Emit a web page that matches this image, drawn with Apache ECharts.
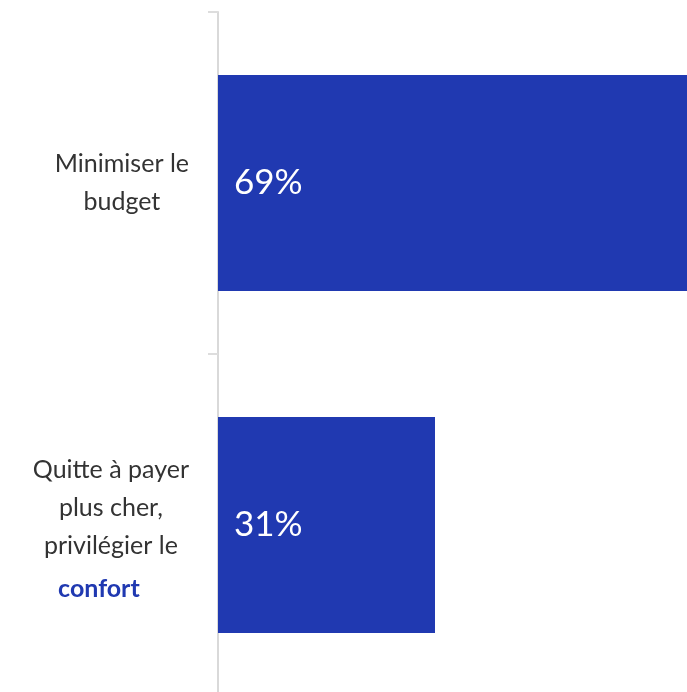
<!DOCTYPE html>
<html><head><meta charset="utf-8">
<script src="https://cdn.jsdelivr.net/npm/echarts@6/dist/echarts.min.js"></script>
<style>html,body{margin:0;padding:0;background:#fff}#c{width:687px;height:692px}</style>
</head><body><div id="c"></div>
<script>
const categories = ['Minimiser le budget', 'Quitte à payer plus cher, privilégier le confort'];
const labelLines = [
  [['a','Minimiser le'],['a','budget']],
  [['a','Quitte à payer'],['a','plus cher,'],['a','privilégier le'],['b','confort']]
];
const values = [69, 31];
const BLUE = '#2039B1';
const chart = echarts.init(document.getElementById('c'));
chart.setOption({
  animation: false,
  grid: {left: 218, top: 12, right: 0, height: 684, containLabel: false, outerBoundsMode: 'none'},
  xAxis: {type: 'value', min: 0, max: 67, show: false},
  yAxis: {
    type: 'category',
    data: [
      {value: categories[0]},
      {value: categories[1], textStyle: {padding: [14, 0, 0, 0]}}
    ],
    inverse: true,
    axisLine: {show: true, lineStyle: {color: '#d9d9d9', width: 2}},
    axisTick: {show: true, length: 10, lineStyle: {color: '#dddddd', width: 2}},
    axisLabel: {
      margin: 29,
      formatter: function (v, i) {
        return labelLines[i].map(l => '{' + l[0] + '|' + l[1] + '}').join('\n');
      },
      rich: {
        a: {fontFamily: 'Lato', fontSize: 25, color: '#333333', lineHeight: 38, align: 'center'},
        b: {fontFamily: 'Lato', fontSize: 25, fontWeight: 'bold', color: BLUE, lineHeight: 48, align: 'center', padding: [0, 24, 0, 0]}
      }
    }
  },
  series: [{
    type: 'bar', data: values, barCategoryGap: '36.8%',
    itemStyle: {color: BLUE},
    label: {show: true, position: 'insideLeft', distance: 16, formatter: '{c}%',
      color: '#ffffff', fontFamily: 'Lato', fontSize: 35}
  }]
});
</script></body></html>
